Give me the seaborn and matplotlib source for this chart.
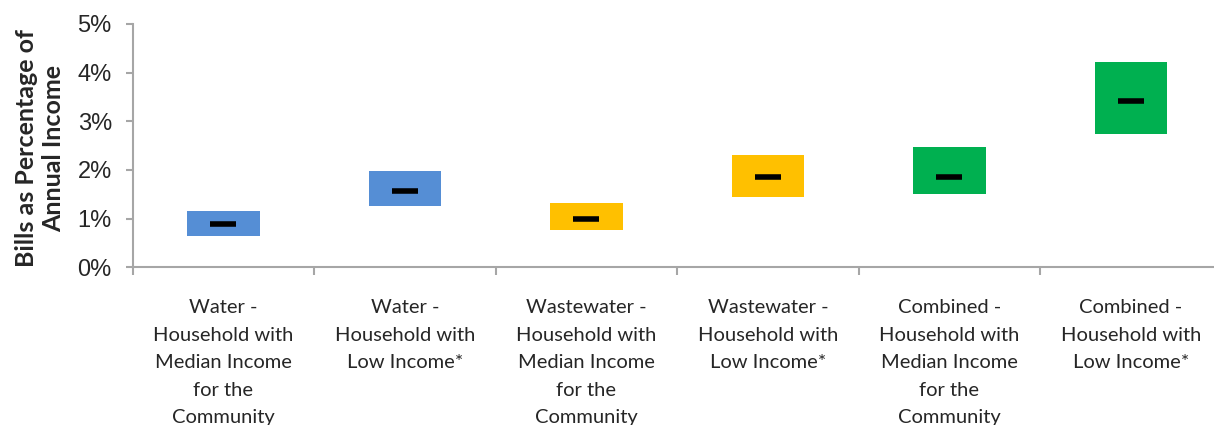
import matplotlib
matplotlib.use("Agg")
import matplotlib.pyplot as plt
from matplotlib.ticker import FuncFormatter, MultipleLocator
import seaborn as sns
import pandas as pd

# Affordability ranges (% of annual income) for each bill / household type
categories = [
    "Water -\nHousehold with\nMedian Income\nfor the\nCommunity",
    "Water -\nHousehold with\nLow Income*",
    "Wastewater -\nHousehold with\nMedian Income\nfor the\nCommunity",
    "Wastewater -\nHousehold with\nLow Income*",
    "Combined -\nHousehold with\nMedian Income\nfor the\nCommunity",
    "Combined -\nHousehold with\nLow Income*",
]
low_pct = [0.64, 1.25, 0.77, 1.44, 1.51, 2.74]
high_pct = [1.16, 1.98, 1.32, 2.31, 2.47, 4.22]
median_pct = [0.88, 1.57, 1.00, 1.86, 1.86, 3.42]
colors = ["#558ED5", "#558ED5", "#FFC000", "#FFC000", "#00B050", "#00B050"]

df = pd.DataFrame({
    "category": categories,
    "low": low_pct,
    "high": high_pct,
    "median": median_pct,
})
df["span"] = df["high"] - df["low"]

sns.set_theme(style="white")
plt.rcParams["font.family"] = ["Liberation Sans", "DejaVu Sans"]

fig = plt.figure(figsize=(12.14, 4.25), dpi=100)
ax = fig.add_axes([0.1093, 0.371, 0.897, 0.573])

# floating bars: each range drawn from its low value up to its high value
for _, row in df.iterrows():
    color = colors[categories.index(row["category"])]
    sns.barplot(x=[row["category"]], y=[row["span"]], order=categories,
                bottom=row["low"], color=color, saturation=1, width=0.4,
                linewidth=0, ax=ax)

sns.scatterplot(data=df, x="category", y="median", marker="_", s=330,
                color="black", linewidth=4, ax=ax, zorder=5)

ax.set_xlim(-0.5, 5.5)
ax.set_ylim(0, 5)
ax.yaxis.set_major_locator(MultipleLocator(1))
ax.yaxis.set_major_formatter(FuncFormatter(lambda v, _: f"{v:.0f}%"))

# Excel-style axis: ticks between categories, labels centred below
ax.set_xticks(range(len(categories)))
ax.set_xticklabels(categories, family="Lato", fontsize=14.5, linespacing=1.75)
ax.set_xticks([i - 0.5 for i in range(len(categories) + 1)], minor=True)
ax.tick_params(axis="x", which="major", length=0, pad=23)
ax.tick_params(axis="x", which="minor", length=6, width=1.5, color="#A6A6A6",
               direction="out", bottom=True)
ax.tick_params(axis="y", length=5, width=1.5, color="#A6A6A6", direction="out",
               left=True, labelsize=17, pad=10)

for side in ("top", "right"):
    ax.spines[side].set_visible(False)
for side in ("left", "bottom"):
    ax.spines[side].set_color("#A6A6A6")
    ax.spines[side].set_linewidth(1.5)

ax.set_xlabel("")
ax.set_ylabel("Bills as Percentage of\nAnnual Income", family="Lato",
              fontweight="bold", fontsize=18, linespacing=1.2)
ax.yaxis.set_label_coords(-0.062, 0.488)

fig.savefig("out.png", dpi=100)
